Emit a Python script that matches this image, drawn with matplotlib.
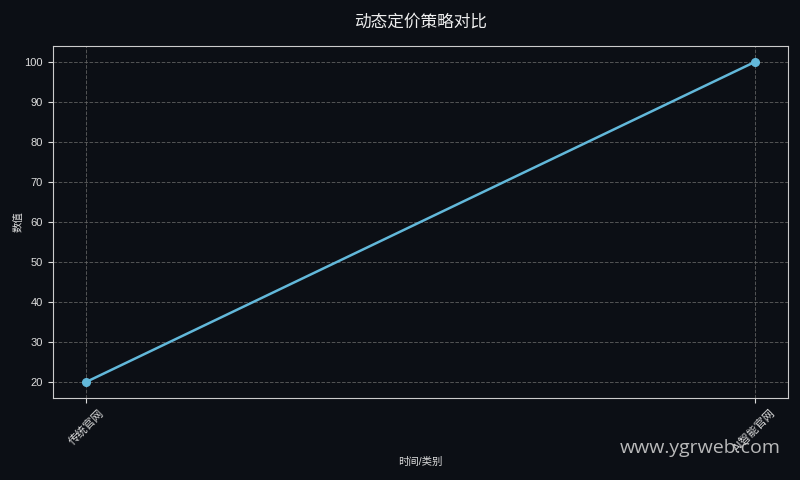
import matplotlib
matplotlib.use('Agg')
import matplotlib.pyplot as plt

# data
categories = ['传统官网', 'AI智能官网']
values = [20, 100]

bg = '#0c0f15'
plt.rcParams['font.family'] = ['Liberation Sans', 'Noto Sans CJK SC', 'DejaVu Sans']

fig = plt.figure(figsize=(8, 4.8), dpi=100, facecolor=bg)
ax = fig.add_axes([0.066, 0.171, 0.919, 0.733])
ax.set_facecolor(bg)

ax.plot(range(len(categories)), values, color='#62b8da', linewidth=1.8,
        marker='o', markersize=5.5)

ax.set_xticks(range(len(categories)))
ax.set_xticklabels(categories, rotation=45, fontsize=8, color='#dddddd')
ax.tick_params(axis='y', labelsize=8, colors='#dddddd')
ax.tick_params(axis='x', colors='#dddddd')
ax.set_yticks(range(20, 101, 10))

ax.set_title('动态定价策略对比', fontsize=12, color='#eeeeee', pad=14)
ax.set_xlabel('时间/类别', fontsize=7.5, color='#dddddd', labelpad=2)
ax.set_ylabel('数值', fontsize=7.5, color='#dddddd', labelpad=1)

ax.grid(True, linestyle='--', color='#666666', linewidth=0.7, alpha=0.8)
for s in ax.spines.values():
    s.set_color('#cccccc')

fig.text(0.875, 0.067, 'www.ygrweb.com', fontsize=14, color='#cccccc',
         ha='center', va='center', family='Open Sans', alpha=0.9)

fig.savefig('out.png', dpi=100, facecolor=bg)
